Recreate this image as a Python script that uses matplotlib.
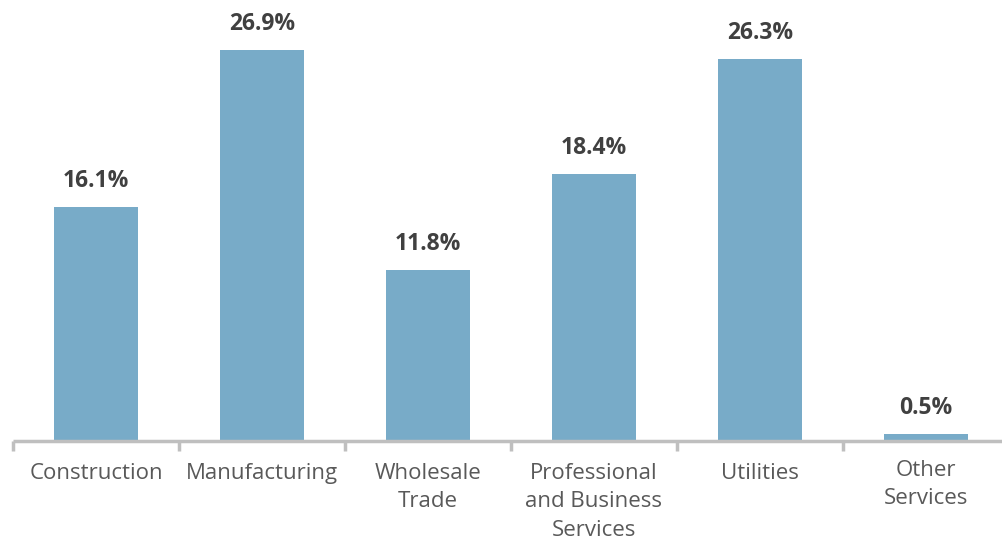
import matplotlib.pyplot as plt
import numpy as np

categories = ["Construction", "Manufacturing", "Wholesale\nTrade",
              "Professional\nand Business\nServices", "Utilities", "Other\nServices"]
shares = [16.1, 26.9, 11.8, 18.4, 26.3, 0.5]

plt.rcParams['font.family'] = ['Open Sans', 'DejaVu Sans']

W, H = 1002, 539
fig = plt.figure(figsize=(W / 100, H / 100), dpi=100)
# axes runs past the right edge so the baseline reaches the border
ax = fig.add_axes([13 / W, (H - 441) / H, 996 / W, 436 / H])

x = np.arange(len(categories))
bars = ax.bar(x, shares, width=0.505, color="#78abc8", zorder=2)

for b, v in zip(bars, shares):
    ax.annotate(f"{v:.1f}%", (b.get_x() + b.get_width() / 2, v),
                xytext=(0, 10), textcoords="offset points",
                ha="center", va="bottom", fontsize=16.5, fontweight="bold",
                color="#404040")

ax.set_xlim(-0.5, 5.5)
ax.set_ylim(0, 30)

for s in ["top", "right", "left"]:
    ax.spines[s].set_visible(False)
ax.spines["bottom"].set_color("#bfbfbf")
ax.spines["bottom"].set_linewidth(2.5)
ax.spines["bottom"].set_capstyle("butt")

ax.set_yticks([])
ax.set_xticks(x)
ax.set_xticklabels(categories, fontsize=16, color="#595959", linespacing=1.45)
ax.tick_params(axis="x", which="major", length=0, pad=16)
ax.set_xticks(np.arange(-0.5, 5.5, 1), minor=True)
ax.tick_params(axis="x", which="minor", length=7, width=2.5, color="#bfbfbf")

# last label sits a little higher
lab = ax.get_xticklabels()[-1]
lab.set_y(0.008)

fig.savefig("out.png", dpi=100)
